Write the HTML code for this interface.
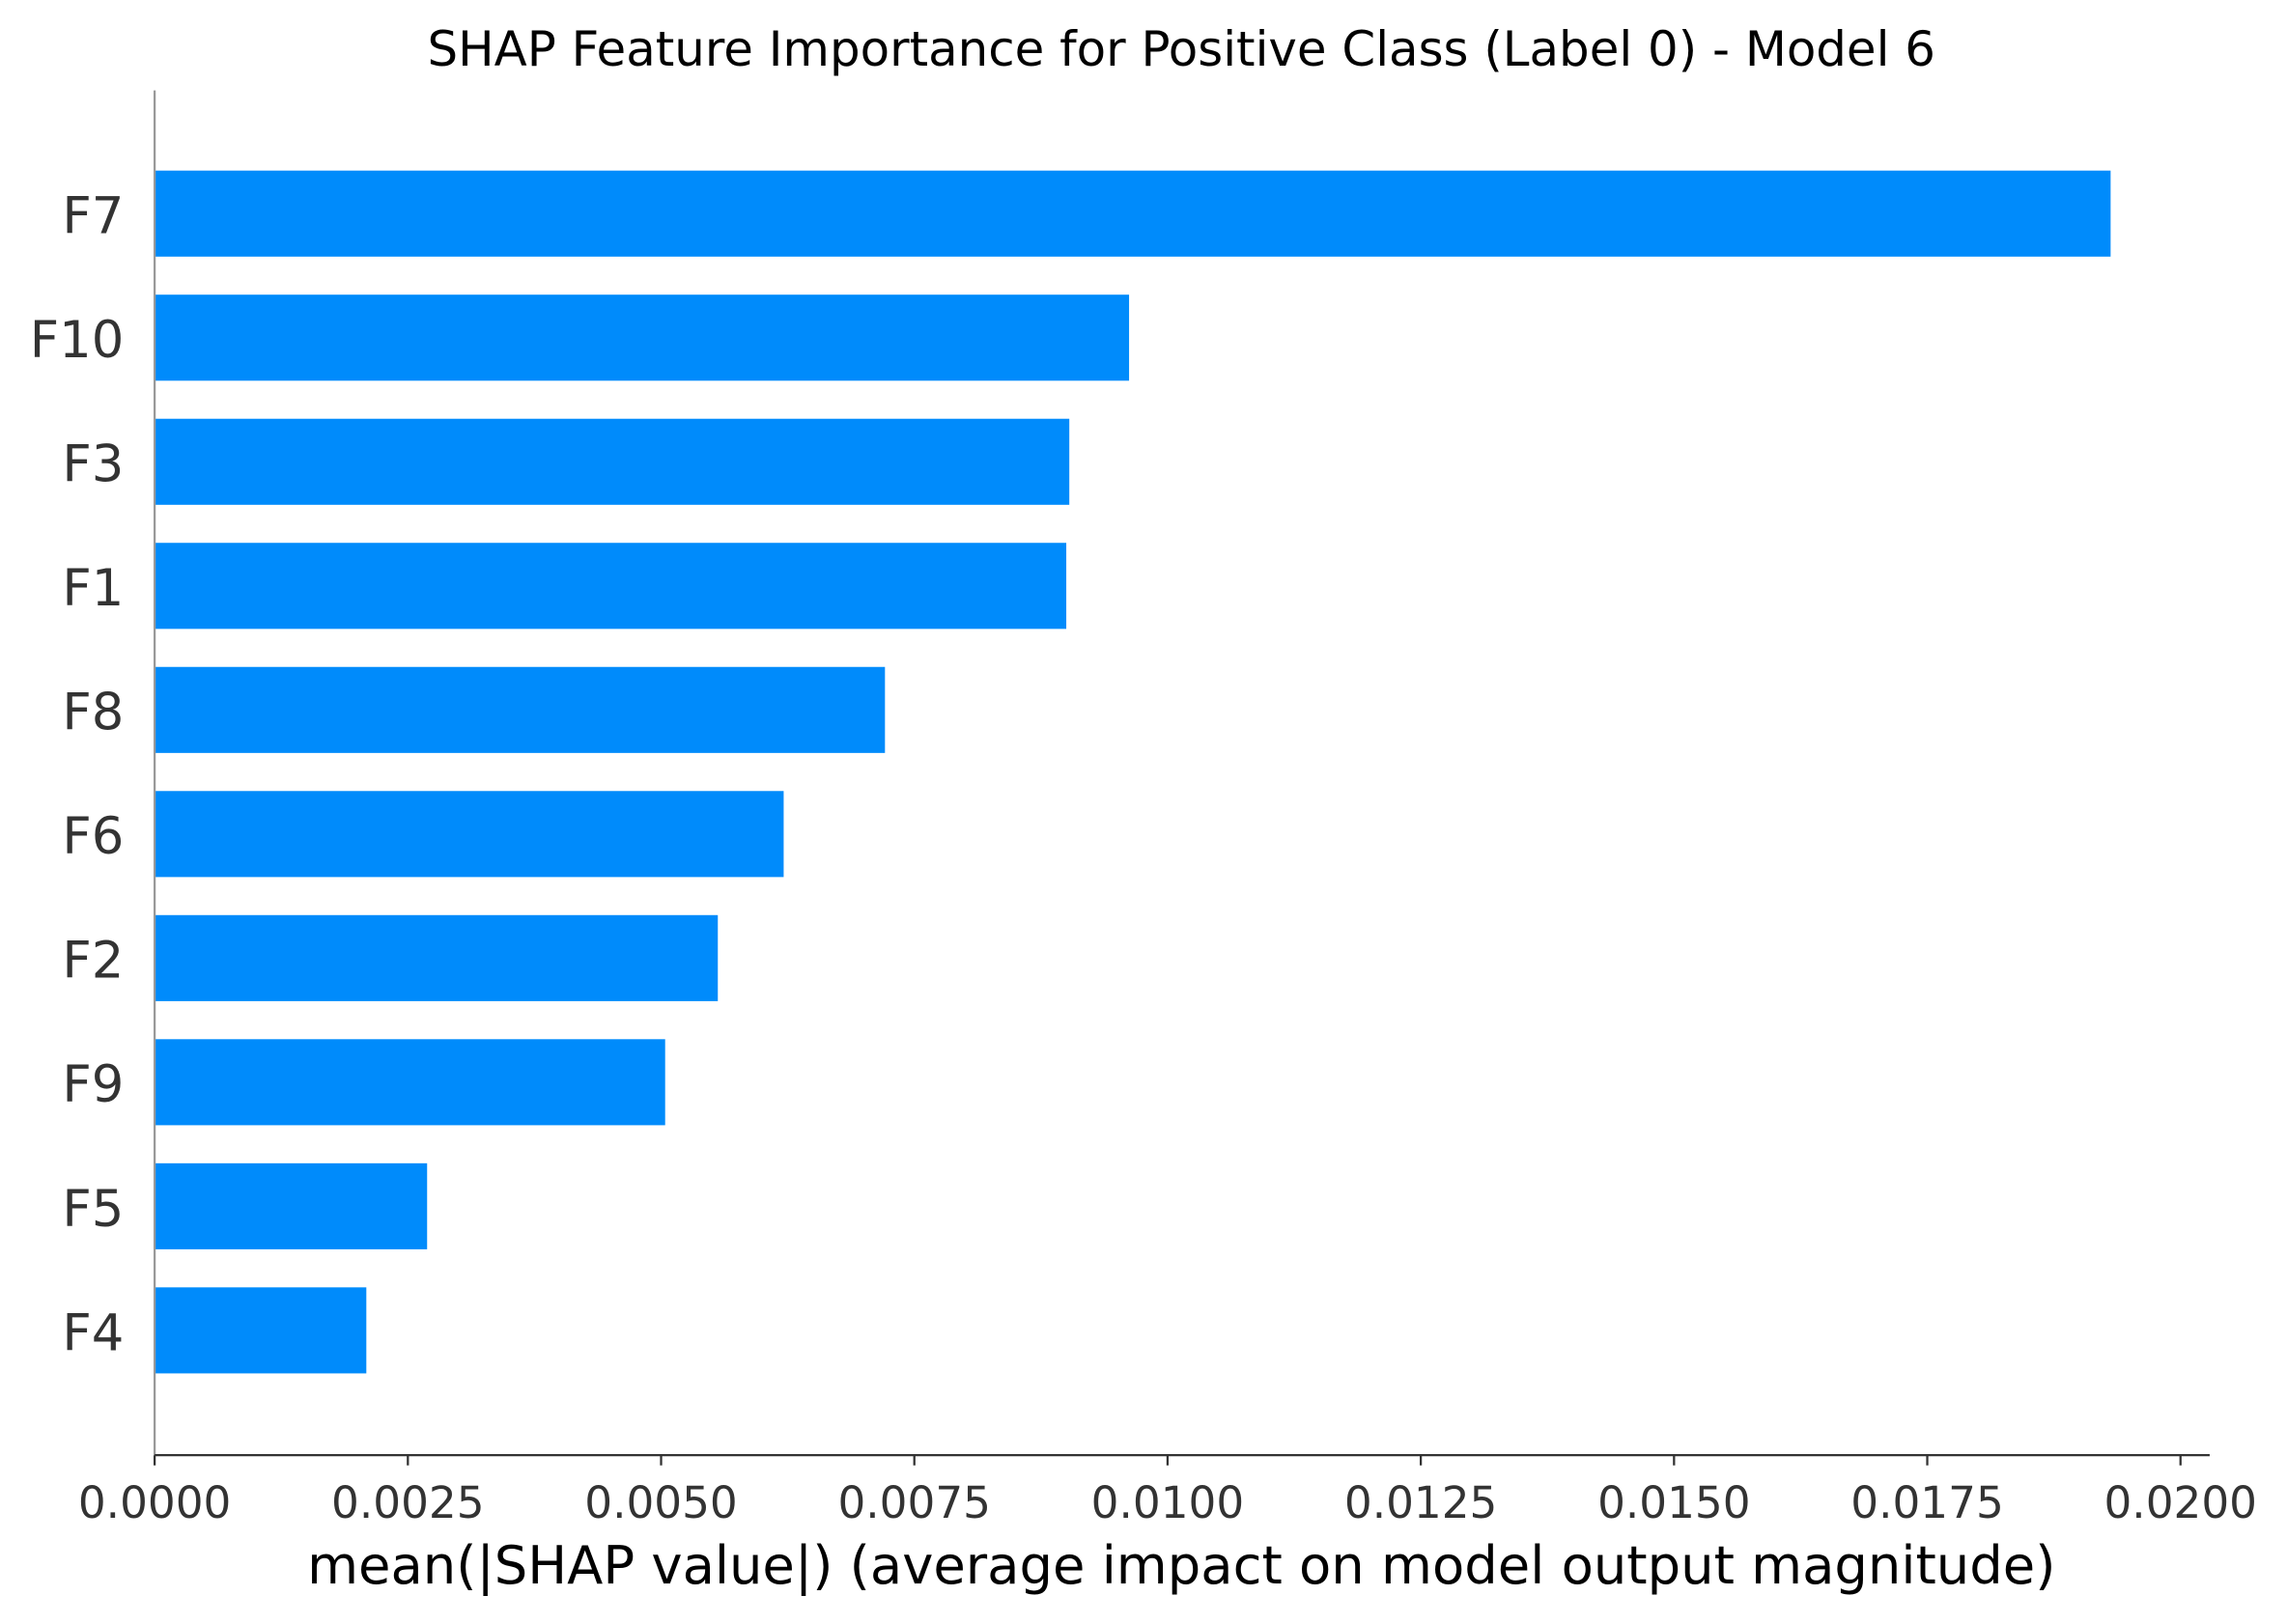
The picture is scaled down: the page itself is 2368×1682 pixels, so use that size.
<!DOCTYPE html>
<html><head><meta charset="utf-8">
<style>
html,body{margin:0;padding:0;background:#fff;}
svg{display:block;font-family:"DejaVu Sans","Liberation Sans",sans-serif;}
</style></head>
<body>
<svg id="chart" width="2368" height="1682" viewBox="0 0 1568 1113.78" xmlns="http://www.w3.org/2000/svg">
<text x="810" y="45" text-anchor="middle" font-size="33" fill="#000">SHAP Feature Importance for Positive Class (Label 0) - Model 6</text>
<g id="bars"></g>
<g id="yticks"></g>
<g id="xticks"></g>
<line x1="106" y1="62" x2="106" y2="998" stroke="#999" stroke-width="1.5"/>
<line x1="106" y1="998" x2="1515" y2="998" stroke="#333" stroke-width="1.5"/>
<text x="810" y="1086" text-anchor="middle" font-size="36" fill="#000">mean(|SHAP value|) (average impact on model output magnitude)</text>
</svg>
<script>
const features = ["F7","F10","F3","F1","F8","F6","F2","F9","F5","F4"];
const values = [0.01931,0.00962,0.00903,0.00900,0.00721,0.00621,0.00556,0.00504,0.00269,0.00209];
const xTicks = [0,0.0025,0.005,0.0075,0.01,0.0125,0.015,0.0175,0.02];
const xTickLabels = ["0.0000","0.0025","0.0050","0.0075","0.0100","0.0125","0.0150","0.0175","0.0200"];

const NS="http://www.w3.org/2000/svg";
const x0=106, x1=1495, xMax=0.02;
function xScale(v){return x0+(v/xMax)*(x1-x0);}
function yScale(i){return 146.5+i*85.1;}
const barH=59;
const gb=document.getElementById('bars'), gy=document.getElementById('yticks'), gx=document.getElementById('xticks');
features.forEach((f,i)=>{
  const r=document.createElementNS(NS,'rect');
  r.setAttribute('x',x0);r.setAttribute('y',yScale(i)-barH/2);
  r.setAttribute('width',xScale(values[i])-x0);r.setAttribute('height',barH);
  r.setAttribute('fill','#008bfb');
  
  
  gb.appendChild(r);
  const t=document.createElementNS(NS,'text');
  t.setAttribute('x',85);t.setAttribute('y',yScale(i)+13.5);
  t.setAttribute('text-anchor','end');t.setAttribute('font-size','35');t.setAttribute('fill','#333');
  t.textContent=f;
  
  
  gy.appendChild(t);
});
xTicks.forEach((v,i)=>{
  const l=document.createElementNS(NS,'line');
  const x=xScale(v);
  l.setAttribute('x1',x);l.setAttribute('x2',x);l.setAttribute('y1',998);l.setAttribute('y2',1005);
  l.setAttribute('stroke','#333');l.setAttribute('stroke-width','1.5');
  
  
  gx.appendChild(l);
  const t=document.createElementNS(NS,'text');
  t.setAttribute('x',x);t.setAttribute('y',1041);t.setAttribute('text-anchor','middle');
  t.setAttribute('font-size','30');t.setAttribute('fill','#333');
  t.textContent=xTickLabels[i];
  
  
  gx.appendChild(t);
});
</script>
</body></html>
